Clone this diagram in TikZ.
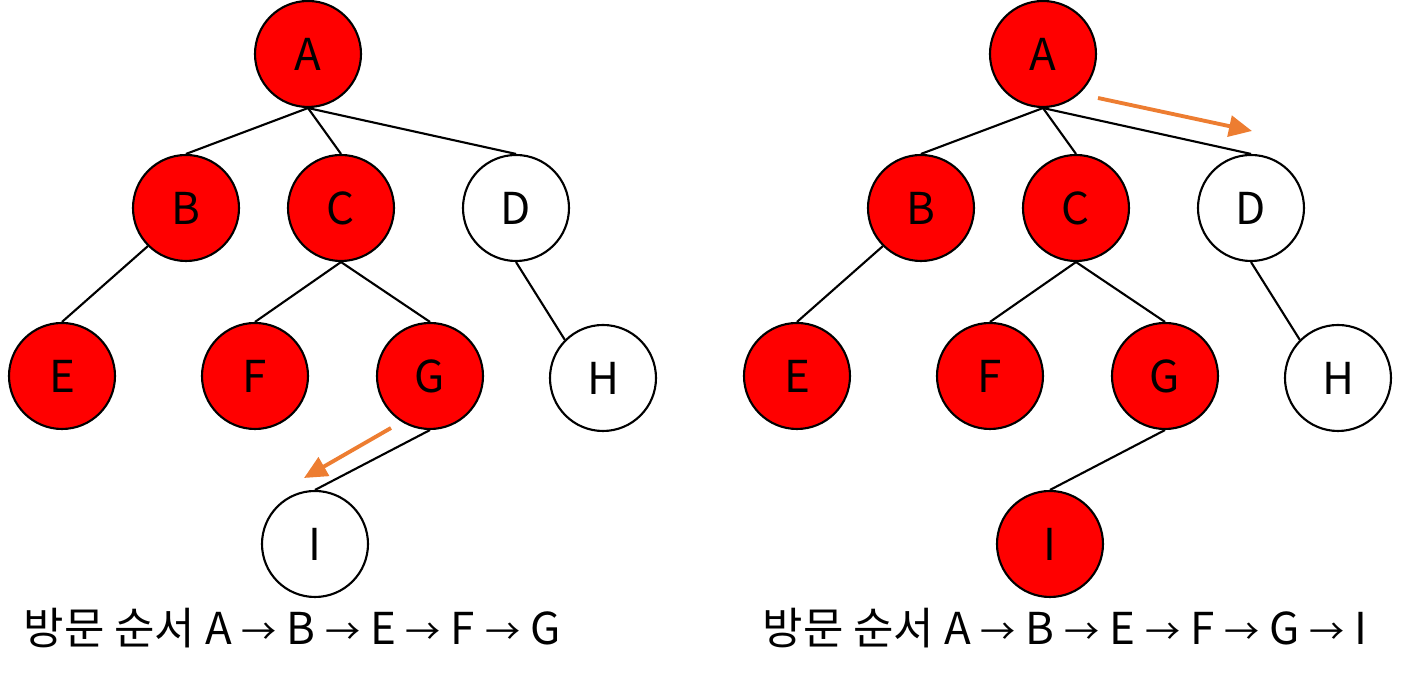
\documentclass[tikz,border=0pt]{standalone}
\usepackage{fontspec}
\setmainfont{Noto Sans CJK KR}
\usepackage{tikz}
\usetikzlibrary{arrows.meta}
\definecolor{visitred}{RGB}{255,0,0}
\definecolor{hintorange}{RGB}{237,125,49}
\newcommand{\nxt}{\ \scalebox{0.8}{→}\ }

\begin{document}
\begin{tikzpicture}[
        vtx/.style={circle,draw,line width=0.6pt,minimum size=1.06cm,inner sep=0pt,
                    font=\fontsize{12.5}{14}\selectfont},
        done/.style={vtx,fill=visitred},
        todo/.style={vtx,fill=white},
        edge/.style={line width=0.6pt},
        hint/.style={-{Triangle[length=2.3mm,width=2.1mm]},hintorange,line width=1.1pt},
        ordertext/.style={font=\fontsize{12.5}{14}\selectfont}]
    \useasboundingbox (0,0) rectangle (14.16,6.73);
    % left: step before visiting I
    \node[done] (la) at (3.08,6.19) {A};
    \node[done] (lb) at (1.86,4.65) {B};
    \node[done] (lc) at (3.41,4.65) {C};
    \node[todo] (ld) at (5.16,4.65) {D};
    \node[done] (le) at (0.62,2.97) {E};
    \node[done] (lf) at (2.55,2.97) {F};
    \node[done] (lg) at (4.30,2.97) {G};
    \node[todo] (lh) at (6.03,2.95) {H};
    \node[todo] (li) at (3.15,1.29) {I};
    \draw[edge] (la.south) -- (lb.north);
    \draw[edge] (la.south) -- (lc.north);
    \draw[edge] (la.south) -- (ld.north);
    \draw[edge] (lb.south west) -- (le.north);
    \draw[edge] (lc.south) -- (lf.north);
    \draw[edge] (lc.south) -- (lg.north);
    \draw[edge] (ld.south) -- (lh.north west);
    \draw[edge] (lg.south) -- (li.north);
    \coordinate (lfrom) at (3.91,2.45);
    \coordinate (lto) at (3.04,1.95);
    \draw[hint] (lfrom) -- (lto);
    \node[ordertext] (lorder) at (2.92,0.45) {방문 순서 A\nxt B\nxt E\nxt F\nxt G};
    % right: I visited, back up to D
    \node[done] (ra) at (10.43,6.19) {A};
    \node[done] (rb) at (9.21,4.65) {B};
    \node[done] (rc) at (10.76,4.65) {C};
    \node[todo] (rd) at (12.51,4.65) {D};
    \node[done] (re) at (7.97,2.97) {E};
    \node[done] (rf) at (9.90,2.97) {F};
    \node[done] (rg) at (11.65,2.97) {G};
    \node[todo] (rh) at (13.38,2.95) {H};
    \node[done] (ri) at (10.50,1.29) {I};
    \draw[edge] (ra.south) -- (rb.north);
    \draw[edge] (ra.south) -- (rc.north);
    \draw[edge] (ra.south) -- (rd.north);
    \draw[edge] (rb.south west) -- (re.north);
    \draw[edge] (rc.south) -- (rf.north);
    \draw[edge] (rc.south) -- (rg.north);
    \draw[edge] (rd.south) -- (rh.north west);
    \draw[edge] (rg.south) -- (ri.north);
    \coordinate (rfrom) at (10.98,5.75);
    \coordinate (rto) at (12.52,5.42);
    \draw[hint] (rfrom) -- (rto);
    \node[ordertext] (rorder) at (10.65,0.45) {방문 순서 A\nxt B\nxt E\nxt F\nxt G\nxt I};
\end{tikzpicture}
\end{document}
